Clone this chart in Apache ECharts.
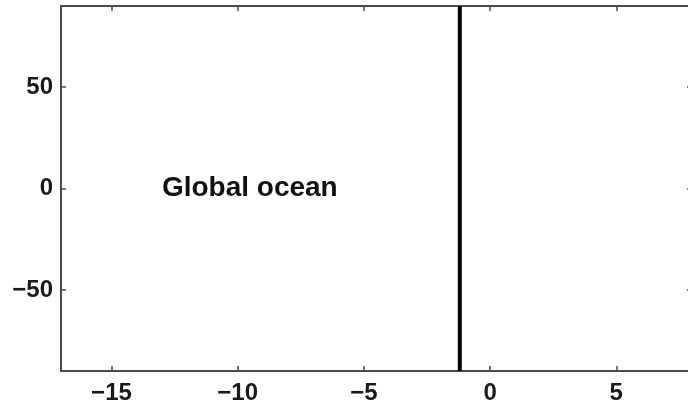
<!DOCTYPE html>
<html>
<head>
<meta charset="utf-8">
<script src="https://cdn.jsdelivr.net/npm/echarts@6/dist/echarts.min.js"></script>
<style>
  html, body { margin: 0; padding: 0; background: #fff; }
  #main { width: 688px; height: 413px; }
</style>
</head>
<body>
<div id="main"></div>
<script>
// data
var xRange = [-17, 8];
var yRange = [-90, 90];
var xTicks = [-15, -10, -5, 0, 5];
var yTicks = [-50, 0, 50];
var boundaryX = [-1.2, -1.2];
var boundaryY = [-90, 90];
var labelText = ['Global ocean'];
var labelPos = [[-9.5, 0]];

var myChart = echarts.init(document.getElementById('main'));
var axisColor = '#4a4a4a';
var font = { fontFamily: 'Liberation Sans', fontWeight: 'bold', fontSize: 24, color: '#1a1a1a' };

function minus(v) { return String(v).replace('-', '\u2212'); }

function xAx(pos, showLabel) {
    return {
        type: 'value', position: pos, min: xRange[0], max: xRange[1],
        axisLine: { show: true, onZero: false, lineStyle: { color: axisColor, width: 2 } },
        axisTick: { show: true, inside: true, length: 5, customValues: xTicks, lineStyle: { color: axisColor, width: 1.5 } },
        axisLabel: Object.assign({ show: showLabel, margin: 10, customValues: xTicks, formatter: minus }, font),
        splitLine: { show: false }
    };
}
function yAx(pos, showLabel) {
    return {
        type: 'value', position: pos, min: yRange[0], max: yRange[1],
        axisLine: { show: true, onZero: false, lineStyle: { color: axisColor, width: 2 } },
        axisTick: { show: true, inside: true, length: 5, customValues: yTicks, lineStyle: { color: axisColor, width: 1.5 } },
        axisLabel: Object.assign({ show: showLabel, margin: 8, customValues: yTicks, formatter: minus }, font),
        splitLine: { show: false }
    };
}

var option = {
    animation: false,
    backgroundColor: '#fff',
    // right border sits just past the picture edge
    grid: { left: 61, top: 6, width: 631, height: 365, outerBoundsMode: 'none' },
    xAxis: [xAx('bottom', true), xAx('top', false)],
    yAxis: [yAx('left', true), yAx('right', false)],
    series: [
        {
            type: 'line',
            data: boundaryX.map(function (x, i) { return [x, boundaryY[i]]; }),
            symbol: 'none',
            lineStyle: { color: '#000', width: 4 },
            clip: true
        },
        {
            type: 'scatter',
            symbolSize: 1,
            itemStyle: { color: 'rgba(0,0,0,0)', opacity: 1 },
            data: labelPos,
            label: {
                show: true,
                position: [0, 0],
                align: 'center',
                verticalAlign: 'middle',
                fontFamily: 'Liberation Sans',
                fontWeight: 'bold',
                fontSize: 28,
                color: '#111',
                formatter: function (p) { return labelText[p.dataIndex]; }
            },
            silent: true
        }
    ]
};
myChart.setOption(option);
</script>
</body>
</html>
